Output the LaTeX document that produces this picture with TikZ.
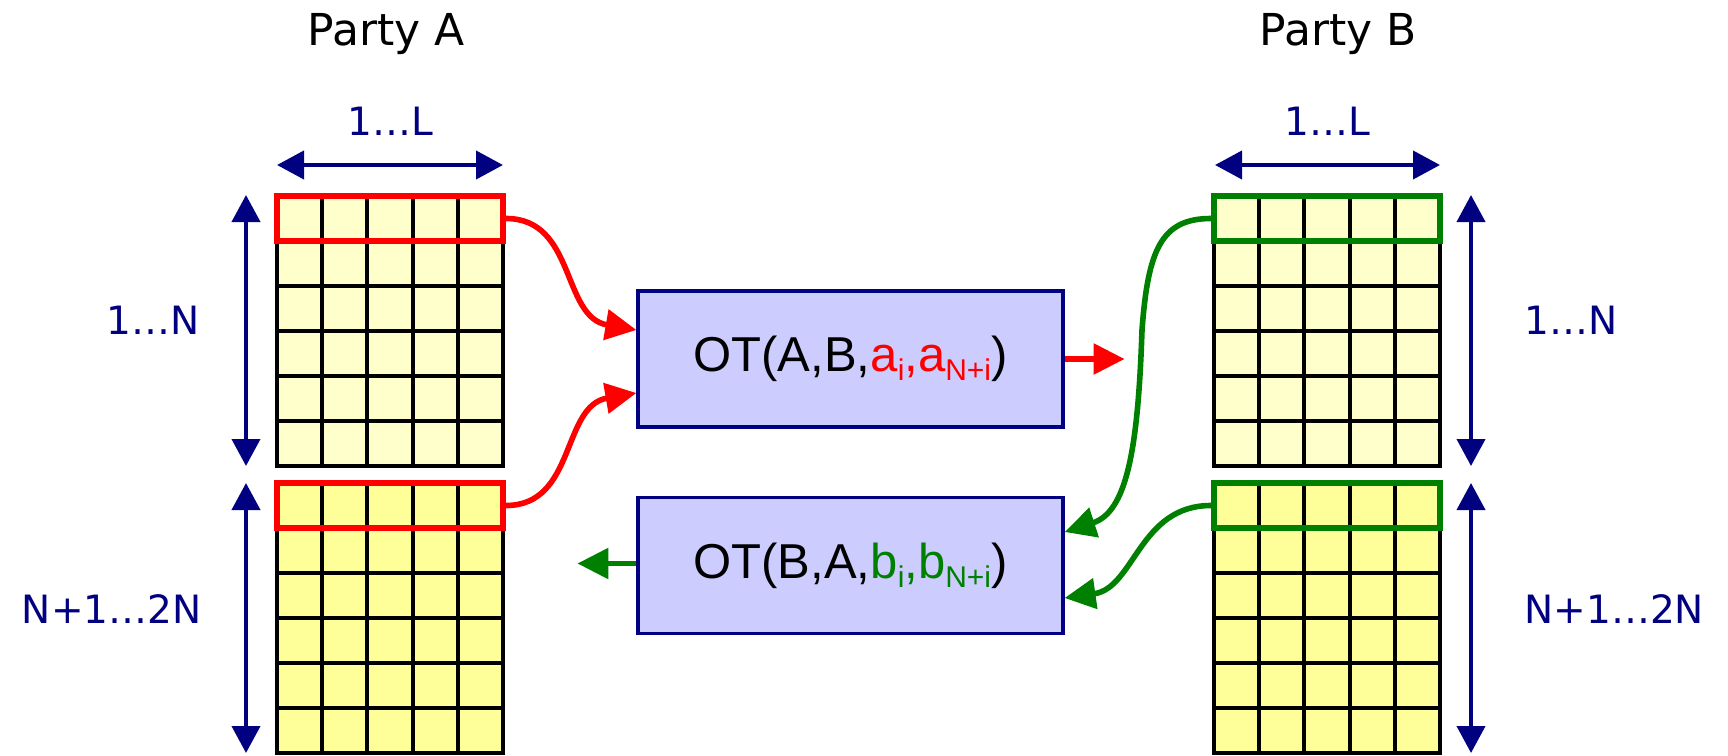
\documentclass[tikz,border=0pt]{standalone}
\usepackage{fontspec}
\setmainfont{DejaVu Sans}
\newfontfamily\arialfont{Liberation Sans}
\usetikzlibrary{arrows.meta,calc}
\definecolor{navy}{RGB}{0,0,128}
\definecolor{boxfill}{RGB}{204,204,255}
\definecolor{paleY}{RGB}{255,255,204}
\definecolor{yellowY}{RGB}{255,255,153}
\definecolor{ogreen}{RGB}{0,128,0}
\newcommand\mygrid[3]{%
  \fill[#3] (#1,#2) rectangle ++(226,270);
  \foreach \i in {1,...,4} \draw[gridline] ({#1+\i*45.2},#2) -- ++(0,270);
  \foreach \j in {1,...,5} \draw[gridline] (#1,{#2+\j*45}) -- ++(226,0);
  \draw[gridline] (#1,#2) rectangle ++(226,270);
}
\newcommand\sub[1]{\raisebox{-4.5pt}{\fontsize{15}{15}\selectfont #1}}
\begin{document}
\begin{tikzpicture}[x=0.5pt,y=-0.5pt,
  gridline/.style={black,line width=2pt},
  selrow/.style={draw,line width=3pt,minimum width=113pt,minimum height=22.5pt,inner sep=0pt},
  otbox/.style={draw=navy,fill=boxfill,line width=1.6pt,minimum width=212.5pt,minimum height=68pt,inner sep=0pt,font=\arialfont\fontsize{24.5}{28}\selectfont},
  measure/.style={navy,line width=2pt,{Triangle[length=13.5pt,width=14pt]}-{Triangle[length=13.5pt,width=14pt]}},
  party/.style={font=\fontsize{22}{26}\selectfont,inner sep=0pt,anchor=base},
  rangelbl/.style={font=\fontsize{19.5}{23}\selectfont,text=navy,inner sep=0pt},
  flow/.style={line width=2.8pt,-{Triangle[length=15.5pt,width=15pt]}}
]
\useasboundingbox (0,0) rectangle (1728,755);

% grids
\mygrid{277}{196}{paleY}
\mygrid{277}{483}{yellowY}
\mygrid{1214}{196}{paleY}
\mygrid{1214}{483}{yellowY}

% selected rows
\node[selrow,draw=red] (rowA1) at (390,218.5) {};
\node[selrow,draw=red] (rowA2) at (390,505.5) {};
\node[selrow,draw=ogreen] (rowB1) at (1327,218.5) {};
\node[selrow,draw=ogreen] (rowB2) at (1327,505.5) {};

% titles
\node[party] (partyA) at (386,45) {Party A};
\node[party] (partyB) at (1338,45) {Party B};

% measure arrows
\coordinate (hA1) at (277,165); \coordinate (hA2) at (503,165);
\coordinate (hB1) at (1215,165); \coordinate (hB2) at (1440,165);
\draw[measure] (hA1) -- (hA2);
\draw[measure] (hB1) -- (hB2);
\node[rangelbl,anchor=base] (lA) at (390,135) {1…L};
\node[rangelbl,anchor=base] (lB) at (1327,135) {1…L};

\coordinate (vA1) at (246,195); \coordinate (vA2) at (246,466);
\coordinate (vA3) at (246,483); \coordinate (vA4) at (246,753);
\coordinate (vB1) at (1471,195); \coordinate (vB2) at (1471,466);
\coordinate (vB3) at (1471,483); \coordinate (vB4) at (1471,753);
\draw[measure] (vA1) -- (vA2);
\draw[measure] (vA3) -- (vA4);
\draw[measure] (vB1) -- (vB2);
\draw[measure] (vB3) -- (vB4);
\node[rangelbl,anchor=base east] (nA1) at (200,334) {1…N};
\node[rangelbl,anchor=base east] (nA2) at (202,623) {N+1…2N};
\node[rangelbl,anchor=base west] (nB1) at (1524,334) {1…N};
\node[rangelbl,anchor=base west] (nB2) at (1524,623) {N+1…2N};

% OT boxes
\node[otbox] (otA) at (850.5,359) {OT(A,B,\textcolor{red}{a\sub{i},a\sub{N+i}})};
\node[otbox] (otB) at (850.5,565.5) {OT(B,A,\textcolor{ogreen}{b\sub{i},b\sub{N+i}})};

% red flows
\coordinate (inA1) at ($(otA.west)+(0,-29)$);
\coordinate (inA2) at ($(otA.west)+(0,34)$);
\draw[flow,red] (rowA1.east) .. controls ($(rowA1.east)+(70,0)$) and ($(inA1)+(-75,-13)$) .. (inA1);
\draw[flow,red] (rowA2.east) .. controls ($(rowA2.east)+(70,0)$) and ($(inA2)+(-75,13)$) .. (inA2);
\coordinate (redend) at ($(otA.east)+(60,0)$);
\draw[flow,red] (otA.east) -- (redend);

% green flows
\coordinate (inB1) at ($(otB.east)+(0,-33.5)$);
\coordinate (inB2) at ($(otB.east)+(0,32.5)$);
\coordinate (gmid) at (1142,330);
\draw[flow,ogreen] (rowB1.west) .. controls ($(rowB1.west)+(-50,0)$) and (1148,250) .. (gmid)
   .. controls (1138,450) and ($(inB1)+(62,-20)$) .. (inB1);
\draw[flow,ogreen] (rowB2.west) .. controls ($(rowB2.west)+(-72,0)$) and ($(inB2)+(70,-10)$) .. (inB2);
\coordinate (grnend) at ($(otB.west)+(-59,-2)$);
\draw[flow,ogreen] ($(otB.west)+(0,-2)$) -- (grnend);
\end{tikzpicture}
\end{document}
